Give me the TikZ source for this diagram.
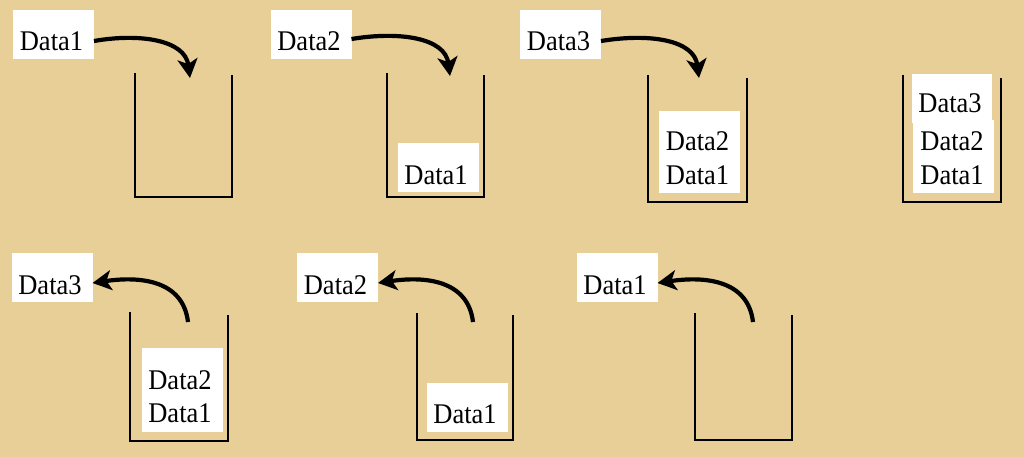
\documentclass[tikz,border=0pt]{standalone}
\usepackage{fontspec}
\setmainfont{Liberation Serif}[FakeStretch=0.93]
\usetikzlibrary{arrows.meta}
\definecolor{parch}{RGB}{232,207,152}
\begin{document}
\begin{tikzpicture}[x=1pt,y=-1pt,
  wbox/.style={fill=white,draw=none,inner sep=0pt,outer sep=0pt,minimum width=81pt},
  lbl/.style={anchor=base,inner sep=0pt,font=\fontsize{28.5}{34}\selectfont},
  wall/.style={line width=2.3pt,draw=black},
  arr/.style={line width=4.2pt,draw=black,-{Stealth[length=19pt,width=20pt,inset=5pt]}}]
\fill[parch] (0,0) rectangle (1024,457);
\useasboundingbox (0,0) rectangle (1024,457);
% containers
\draw[wall] (135,73) -- (135,197) -- (232,197) -- (232,75);
\draw[wall] (387,73) -- (387,197) -- (484,197) -- (484,75);
\draw[wall] (648,75) -- (648,202) -- (747,202) -- (747,78);
\draw[wall] (903,75) -- (903,202) -- (1001,202) -- (1001,78);
\draw[wall] (130,312) -- (130,441) -- (228,441) -- (228,315);
\draw[wall] (417,313) -- (417,440) -- (513,440) -- (513,315);
\draw[wall] (695,313) -- (695,440) -- (792,440) -- (792,315);
% top row labels
\node[wbox,minimum height=49pt] (t1) at (53.5,34.5) {};
\node[lbl] (t1l) at (51.5,51) {Data1};
\node[wbox,minimum height=49pt] (t2) at (311,34.5) {};
\node[lbl] (t2l) at (309,51) {Data2};
\node[wbox,minimum height=49pt] (t3) at (560.5,34.5) {};
\node[lbl] (t3l) at (558.5,51) {Data3};
% container 2
\node[wbox,minimum height=49pt] (c2) at (438,167.5) {};
\node[lbl] (c2a) at (436,184) {Data1};
% container 3
\node[wbox,minimum height=82pt] (c3) at (699.5,152) {};
\node[lbl] (c3a) at (697.5,151) {Data2};
\node[lbl] (c3b) at (697.5,185) {Data1};
% container 4
\node[wbox,minimum height=73pt] (c4b) at (953.5,156.5) {};
\node[wbox,minimum height=49pt,minimum width=80pt] (c4a) at (952,98.5) {};
\node[lbl] (c4x) at (950,113) {Data3};
\node[lbl] (c4y) at (952,151) {Data2};
\node[lbl] (c4z) at (952,185) {Data1};
% bottom row labels
\node[wbox,minimum height=49pt] (b1) at (52,277.5) {};
\node[lbl] (b1l) at (50,294) {Data3};
\node[wbox,minimum height=49pt] (b2) at (337.5,277.5) {};
\node[lbl] (b2l) at (335.5,294) {Data2};
\node[wbox,minimum height=49pt] (b3) at (617,277.5) {};
\node[lbl] (b3l) at (615,294) {Data1};
% container 5
\node[wbox,minimum height=84pt] (c5) at (182,390) {};
\node[lbl] (c5a) at (180,389) {Data2};
\node[lbl] (c5b) at (180,422) {Data1};
% container 6
\node[wbox,minimum height=49pt] (c6) at (467,407.5) {};
\node[lbl] (c6a) at (465,423) {Data1};
% arrow tips
\coordinate (p1) at (190,78);
\coordinate (p2) at (450,76);
\coordinate (p3) at (699,78);
\coordinate (q1) at (188,322);
\coordinate (q2) at (473,322);
\coordinate (q3) at (753,322);
% push arrows
\draw[arr] ([yshift=-6.5pt]t1.east) .. controls (140,33) and (185,40) .. (p1);
\draw[arr] ([yshift=-4.5pt]t2.east) .. controls (400,31) and (445,38) .. (p2);
\draw[arr] ([yshift=-6.5pt]t3.east) .. controls (650,33) and (694,40) .. (p3);
% pop arrows
\draw[arr] (q1) .. controls (183,280) and (140,276) .. ([yshift=-5.5pt]b1.east);
\draw[arr] (q2) .. controls (468,280) and (425,276) .. ([yshift=-5.5pt]b2.east);
\draw[arr] (q3) .. controls (748,280) and (705,276) .. ([yshift=-5.5pt]b3.east);
\end{tikzpicture}
\end{document}
